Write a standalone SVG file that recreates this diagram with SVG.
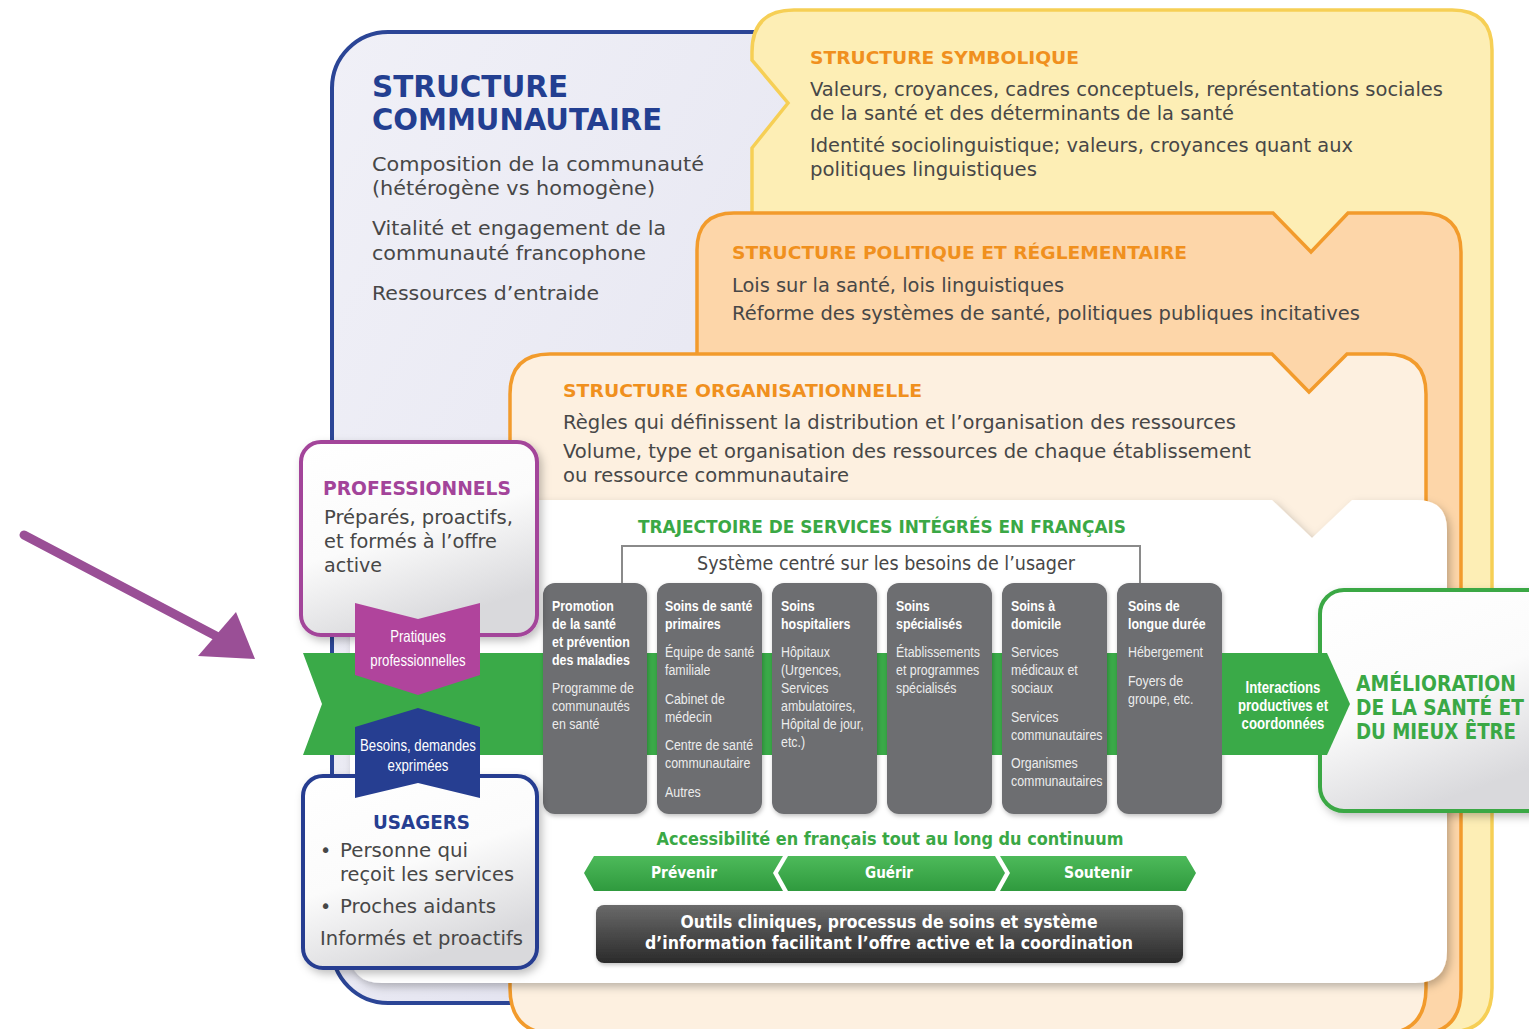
<svg xmlns="http://www.w3.org/2000/svg" width="1529" height="1029" viewBox="0 0 1529 1029">
<defs>
<linearGradient id="gBlue" x1="0" y1="0" x2="1" y2="1"><stop offset="0" stop-color="#f0f0f7"/><stop offset="0.5" stop-color="#e9e9f3"/><stop offset="1" stop-color="#dcdcec"/></linearGradient>
<linearGradient id="gCard" x1="0" y1="0" x2="0.4" y2="1"><stop offset="0" stop-color="#ffffff"/><stop offset="0.55" stop-color="#fbfbfb"/><stop offset="1" stop-color="#d9d9dc"/></linearGradient>
<linearGradient id="gGreen" x1="0" y1="0" x2="0" y2="1"><stop offset="0" stop-color="#4dba5a"/><stop offset="1" stop-color="#2f9a3e"/></linearGradient>
<linearGradient id="gDark" x1="0" y1="0" x2="0" y2="1"><stop offset="0" stop-color="#6a6a6a"/><stop offset="1" stop-color="#2a2a2a"/></linearGradient>
<filter id="sh" x="-10%" y="-10%" width="125%" height="125%"><feDropShadow dx="3" dy="4" stdDeviation="4" flood-color="#000" flood-opacity="0.25"/></filter>
<filter id="shs" x="-10%" y="-10%" width="125%" height="125%"><feDropShadow dx="1" dy="2" stdDeviation="2" flood-color="#000" flood-opacity="0.25"/></filter>
<style>
.body{font-family:"DejaVu Sans","Noto Sans",sans-serif;font-size:19px;fill:#474747}
.hd{font-family:"DejaVu Sans","Noto Sans",sans-serif;font-weight:700}
.or{fill:#f0901e;font-size:18.5px}
.col{fill:#6d6e71;filter:url(#shs)}
.ct{font-family:"Liberation Sans",Arial,sans-serif;font-size:15.5px;fill:#ffffff;font-weight:700}
.cb{font-family:"Liberation Sans",Arial,sans-serif;font-size:15.5px;fill:#ececec}
.wb{font-family:"Liberation Sans",Arial,sans-serif;font-size:16.5px;fill:#ffffff}
.gh{font-family:"DejaVu Sans","Noto Sans",sans-serif;font-weight:700;fill:#3aa845}
.seg{fill:url(#gGreen)}
</style>
</defs>

<g id="structure-communautaire">
<rect x="332" y="32" width="530" height="971" rx="56" fill="url(#gBlue)" stroke="#2b4596" stroke-width="4"/>
<text class="hd" x="372" y="97" font-size="31" fill="#233f91" textLength="196" lengthAdjust="spacingAndGlyphs">STRUCTURE</text>
<text class="hd" x="372" y="130" font-size="31" fill="#233f91" textLength="290" lengthAdjust="spacingAndGlyphs">COMMUNAUTAIRE</text>
<text class="body" x="372" y="171" font-size="20" textLength="332" lengthAdjust="spacingAndGlyphs">Composition de la communauté</text>
<text class="body" x="372" y="195" font-size="20" textLength="283" lengthAdjust="spacingAndGlyphs">(hétérogène vs homogène)</text>
<text class="body" x="372" y="235" font-size="20" textLength="294" lengthAdjust="spacingAndGlyphs">Vitalité et engagement de la</text>
<text class="body" x="372" y="260" font-size="20" textLength="274" lengthAdjust="spacingAndGlyphs">communauté francophone</text>
<text class="body" x="372" y="300" font-size="20" textLength="227" lengthAdjust="spacingAndGlyphs">Ressources d’entraide</text>
</g>

<g id="structure-symbolique">
<path d="M752,52 Q752,10 794,10 H1452 Q1492,10 1492,50 V988 Q1492,1032 1448,1032 H752 V148 L788,103 L752,60 Z" fill="#fdeeb5" stroke="#f6cf55" stroke-width="3.5"/>
<text class="hd or" x="810" y="64" textLength="269" lengthAdjust="spacingAndGlyphs">STRUCTURE SYMBOLIQUE</text>
<text class="body" x="810" y="96" textLength="633" lengthAdjust="spacingAndGlyphs">Valeurs, croyances, cadres conceptuels, représentations sociales</text>
<text class="body" x="810" y="120" textLength="424" lengthAdjust="spacingAndGlyphs">de la santé et des déterminants de la santé</text>
<text class="body" x="810" y="152" textLength="543" lengthAdjust="spacingAndGlyphs">Identité sociolinguistique; valeurs, croyances quant aux</text>
<text class="body" x="810" y="176" textLength="227" lengthAdjust="spacingAndGlyphs">politiques linguistiques</text>
</g>

<g id="structure-politique">
<path d="M697,250 Q697,213 734,213 H1273 L1311,252 L1348,213 H1422 Q1461,213 1461,252 V990 Q1461,1034 1417,1034 H697 Z" fill="#fdd6a9" stroke="#f29b2c" stroke-width="3.5"/>
<text class="hd or" x="732" y="259" textLength="455" lengthAdjust="spacingAndGlyphs">STRUCTURE POLITIQUE ET RÉGLEMENTAIRE</text>
<text class="body" x="732" y="292" textLength="332" lengthAdjust="spacingAndGlyphs">Lois sur la santé, lois linguistiques</text>
<text class="body" x="732" y="320" textLength="628" lengthAdjust="spacingAndGlyphs">Réforme des systèmes de santé, politiques publiques incitatives</text>
</g>

<g id="structure-organisationnelle">
<path d="M510,394 Q510,354 550,354 H1272 L1309,392 L1347,354 H1386 Q1426,354 1426,394 V988 Q1426,1034 1380,1034 H556 Q510,1034 510,988 Z" fill="#fdf0e0" stroke="#f29b2c" stroke-width="3.5"/>
<text class="hd or" x="563" y="397" textLength="359" lengthAdjust="spacingAndGlyphs">STRUCTURE ORGANISATIONNELLE</text>
<text class="body" x="563" y="429" textLength="673" lengthAdjust="spacingAndGlyphs">Règles qui définissent la distribution et l’organisation des ressources</text>
<text class="body" x="563" y="458" textLength="688" lengthAdjust="spacingAndGlyphs">Volume, type et organisation des ressources de chaque établissement</text>
<text class="body" x="563" y="482" textLength="286" lengthAdjust="spacingAndGlyphs">ou ressource communautaire</text>
</g>

<g id="trajectoire">
<path d="M380,500 H1272 L1312,538 L1352,500 H1417 Q1447,500 1447,530 V951 Q1447,983 1415,983 H382 Q350,983 350,951 V530 Q350,500 380,500 Z" fill="#ffffff" filter="url(#sh)"/>
<text class="gh" x="638" y="533" font-size="17" textLength="488" lengthAdjust="spacingAndGlyphs">TRAJECTOIRE DE SERVICES INTÉGRÉS EN FRANÇAIS</text>
<text class="body" x="697" y="570" font-size="16.5" fill="#6a6a6a" textLength="378" lengthAdjust="spacingAndGlyphs">Système centré sur les besoins de l’usager</text>
</g>

<g id="bande-verte">
<path d="M303,653 H1327 L1350,704 L1327,755 H303 L322,704 Z" fill="#3aaa48"/>
</g>

<g id="col-promotion">
<rect class="col" x="543" y="583" width="104" height="231" rx="12"/>
<g transform="translate(552,0) scale(0.8,1)">
<text class="ct" x="0" y="611">Promotion</text><text class="ct" x="0" y="629">de la santé</text><text class="ct" x="0" y="647">et prévention</text><text class="ct" x="0" y="665">des maladies</text>
<text class="cb" x="0" y="693">Programme de</text><text class="cb" x="0" y="711">communautés</text><text class="cb" x="0" y="729">en santé</text>
</g></g>

<g id="col-primaires">
<rect class="col" x="657" y="583" width="105" height="231" rx="12"/>
<g transform="translate(665,0) scale(0.8,1)">
<text class="ct" x="0" y="611">Soins de santé</text><text class="ct" x="0" y="629">primaires</text>
<text class="cb" x="0" y="657">Équipe de santé</text><text class="cb" x="0" y="675">familiale</text>
<text class="cb" x="0" y="704">Cabinet de</text><text class="cb" x="0" y="722">médecin</text>
<text class="cb" x="0" y="750">Centre de santé</text><text class="cb" x="0" y="768">communautaire</text>
<text class="cb" x="0" y="797">Autres</text>
</g></g>

<g id="col-hospitaliers">
<rect class="col" x="772" y="583" width="105" height="231" rx="12"/>
<g transform="translate(781,0) scale(0.8,1)">
<text class="ct" x="0" y="611">Soins</text><text class="ct" x="0" y="629">hospitaliers</text>
<text class="cb" x="0" y="657">Hôpitaux</text><text class="cb" x="0" y="675">(Urgences,</text><text class="cb" x="0" y="693">Services</text><text class="cb" x="0" y="711">ambulatoires,</text><text class="cb" x="0" y="729">Hôpital de jour,</text><text class="cb" x="0" y="747">etc.)</text>
</g></g>

<g id="col-specialises">
<rect class="col" x="887" y="583" width="105" height="231" rx="12"/>
<g transform="translate(896,0) scale(0.8,1)">
<text class="ct" x="0" y="611">Soins</text><text class="ct" x="0" y="629">spécialisés</text>
<text class="cb" x="0" y="657">Établissements</text><text class="cb" x="0" y="675">et programmes</text><text class="cb" x="0" y="693">spécialisés</text>
</g></g>

<g id="col-domicile">
<rect class="col" x="1002" y="583" width="105" height="231" rx="12"/>
<g transform="translate(1011,0) scale(0.8,1)">
<text class="ct" x="0" y="611">Soins à</text><text class="ct" x="0" y="629">domicile</text>
<text class="cb" x="0" y="657">Services</text><text class="cb" x="0" y="675">médicaux et</text><text class="cb" x="0" y="693">sociaux</text>
<text class="cb" x="0" y="722">Services</text><text class="cb" x="0" y="740">communautaires</text>
<text class="cb" x="0" y="768">Organismes</text><text class="cb" x="0" y="786">communautaires</text>
</g></g>

<g id="col-longue-duree">
<rect class="col" x="1117" y="583" width="105" height="231" rx="12"/>
<g transform="translate(1128,0) scale(0.8,1)">
<text class="ct" x="0" y="611">Soins de</text><text class="ct" x="0" y="629">longue durée</text>
<text class="cb" x="0" y="657">Hébergement</text>
<text class="cb" x="0" y="686">Foyers de</text><text class="cb" x="0" y="704">groupe, etc.</text>
</g></g>

<g id="amelioration">
<rect x="1320" y="590" width="240" height="221" rx="24" fill="url(#gCard)" stroke="#3aa845" stroke-width="4" filter="url(#sh)"/>
<text class="gh" x="1356" y="691" font-size="21" textLength="160" lengthAdjust="spacingAndGlyphs">AMÉLIORATION</text>
<text class="gh" x="1356" y="715" font-size="21" textLength="168" lengthAdjust="spacingAndGlyphs">DE LA SANTÉ ET</text>
<text class="gh" x="1356" y="739" font-size="21" textLength="160" lengthAdjust="spacingAndGlyphs">DU MIEUX ÊTRE</text>
</g>

<g id="interactions">
<path d="M1222,653 H1327 L1350,704 L1327,755 H1222 Z" fill="#3aaa48"/>
<g transform="translate(1283,0) scale(0.8,1)">
<text class="wb" x="0" y="693" text-anchor="middle" font-weight="700">Interactions</text>
<text class="wb" x="0" y="711" text-anchor="middle" font-weight="700">productives et</text>
<text class="wb" x="0" y="729" text-anchor="middle" font-weight="700">coordonnées</text>
</g></g>

<g id="professionnels">
<rect x="301" y="442" width="236" height="193" rx="20" fill="url(#gCard)" stroke="#a3449a" stroke-width="4" filter="url(#sh)"/>
<text class="hd" x="323" y="495" font-size="19" fill="#a3449a" textLength="188" lengthAdjust="spacingAndGlyphs">PROFESSIONNELS</text>
<text class="body" x="324" y="524" font-size="19.5" textLength="189" lengthAdjust="spacingAndGlyphs">Préparés, proactifs,</text>
<text class="body" x="324" y="548" font-size="19.5" textLength="173" lengthAdjust="spacingAndGlyphs">et formés à l’offre</text>
<text class="body" x="324" y="572" font-size="19.5" textLength="58" lengthAdjust="spacingAndGlyphs">active</text>
</g>

<g id="usagers">
<rect x="303" y="776" width="234" height="192" rx="20" fill="url(#gCard)" stroke="#263e91" stroke-width="4" filter="url(#sh)"/>
<text class="hd" x="373" y="829" font-size="19" fill="#263e91" textLength="97" lengthAdjust="spacingAndGlyphs">USAGERS</text>
<text class="body" x="320" y="857" font-size="19.5">•</text>
<text class="body" x="340" y="857" font-size="19.5" textLength="128" lengthAdjust="spacingAndGlyphs">Personne qui</text>
<text class="body" x="340" y="881" font-size="19.5" textLength="174" lengthAdjust="spacingAndGlyphs">reçoit les services</text>
<text class="body" x="320" y="913" font-size="19.5">•</text>
<text class="body" x="340" y="913" font-size="19.5" textLength="156" lengthAdjust="spacingAndGlyphs">Proches aidants</text>
<text class="body" x="320" y="945" font-size="19.5" textLength="203" lengthAdjust="spacingAndGlyphs">Informés et proactifs</text>
</g>

<g id="pratiques">
<path d="M355,603 L418,619 L480,603 V675 L418,695 L355,675 Z" fill="#b0449c"/>
<g transform="translate(418,0) scale(0.8,1)">
<text class="wb" x="0" y="642" text-anchor="middle">Pratiques</text>
<text class="wb" x="0" y="666" text-anchor="middle">professionnelles</text>
</g></g>

<g id="besoins">
<path d="M355,727 L418,708 L480,727 V798 L418,783 L355,798 Z" fill="#263e91"/>
<g transform="translate(418,0) scale(0.8,1)">
<text class="wb" x="0" y="751" text-anchor="middle">Besoins, demandes</text>
<text class="wb" x="0" y="771" text-anchor="middle">exprimées</text>
</g></g>

<g id="continuum">
<text class="gh" x="890" y="845" font-size="17" text-anchor="middle" textLength="467" lengthAdjust="spacingAndGlyphs">Accessibilité en français tout au long du continuum</text>
<path class="seg" d="M584,873 L594,856 H783 L773,873 L783,891 H594 Z"/>
<path class="seg" d="M788,856 H995 L1005,873 L995,891 H788 L778,873 Z"/>
<path class="seg" d="M1000,856 H1186 L1196,873 L1186,891 H1000 L1010,873 Z"/>
<text class="hd" x="684" y="878" font-size="15" fill="#fff" text-anchor="middle" textLength="66" lengthAdjust="spacingAndGlyphs">Prévenir</text>
<text class="hd" x="889" y="878" font-size="15" fill="#fff" text-anchor="middle" textLength="48" lengthAdjust="spacingAndGlyphs">Guérir</text>
<text class="hd" x="1098" y="878" font-size="15" fill="#fff" text-anchor="middle" textLength="68" lengthAdjust="spacingAndGlyphs">Soutenir</text>
</g>

<g id="outils">
<rect x="596" y="905" width="587" height="58" rx="8" fill="url(#gDark)" filter="url(#shs)"/>
<text class="hd" x="889" y="928" font-size="17" fill="#fff" text-anchor="middle" textLength="417" lengthAdjust="spacingAndGlyphs">Outils cliniques, processus de soins et système</text>
<text class="hd" x="889" y="949" font-size="17" fill="#fff" text-anchor="middle" textLength="488" lengthAdjust="spacingAndGlyphs">d’information facilitant l’offre active et la coordination</text>
</g>

<g id="connectors">
<path d="M622,583 V546 H1140 V583" fill="none" stroke="#8a8a8a" stroke-width="2"/>
<line x1="24" y1="535" x2="218" y2="637" stroke="#9a4f96" stroke-width="9" stroke-linecap="round"/>
<polygon points="255,659 198,656 236,612" fill="#9a4f96"/>
</g>
</svg>
